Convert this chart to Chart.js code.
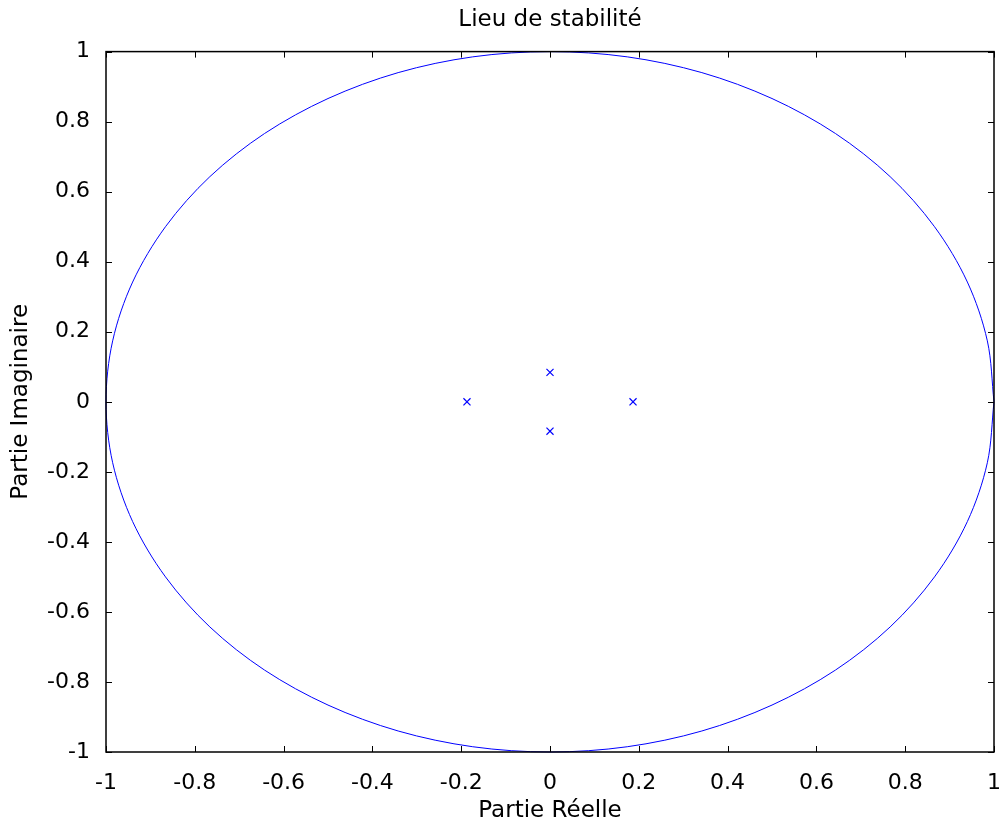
<!DOCTYPE html>
<html lang="fr">
<head>
  <meta charset="UTF-8" />
  <title>Lieu de stabilité</title>
  <script src="https://cdn.jsdelivr.net/npm/chart.js"></script>
  <style>
    body {
      margin: 0;
      background: #ffffff;
    }
    .chart-wrapper {
      position: relative;
      width: 1002px;
      height: 828px;
    }
  </style>
</head>
<body>
  <div class="chart-wrapper">
    <canvas id="stabChart"></canvas>
  </div>

  <script>
    // Cercle unité (points relevés tous les 10°)
    const circleX = [1, 0.985, 0.940, 0.866, 0.766, 0.643, 0.5, 0.342, 0.174, 0,
      -0.174, -0.342, -0.5, -0.643, -0.766, -0.866, -0.940, -0.985, -1,
      -0.985, -0.940, -0.866, -0.766, -0.643, -0.5, -0.342, -0.174, 0,
      0.174, 0.342, 0.5, 0.643, 0.766, 0.866, 0.940, 0.985, 1];
    const circleY = [0, 0.174, 0.342, 0.5, 0.643, 0.766, 0.866, 0.940, 0.985, 1,
      0.985, 0.940, 0.866, 0.766, 0.643, 0.5, 0.342, 0.174, 0,
      -0.174, -0.342, -0.5, -0.643, -0.766, -0.866, -0.940, -0.985, -1,
      -0.985, -0.940, -0.866, -0.766, -0.643, -0.5, -0.342, -0.174, 0];

    // Pôles du système
    const poleX = [-0.187, 0.187, 0, 0];
    const poleY = [0, 0, 0.084, -0.084];

    // Graduations
    const tickValues = [-1, -0.8, -0.6, -0.4, -0.2, 0, 0.2, 0.4, 0.6, 0.8, 1];

    const FONT = "'DejaVu Sans', sans-serif";
    const BLUE = '#0000ff';

    const toPoints = (xs, ys) => xs.map((x, i) => ({ x: x, y: ys[i] }));

    // cadre + graduations intérieures (style MATLAB)
    const boxPlugin = {
      id: 'boxPlugin',
      afterDraw(chart) {
        const { ctx, chartArea: a, scales } = chart;
        const len = 6;
        ctx.save();
        ctx.strokeStyle = '#000';
        ctx.lineWidth = 1;
        ctx.beginPath();
        tickValues.forEach(v => {
          const px = Math.round(scales.x.getPixelForValue(v)) + 0.5;
          const py = Math.round(scales.y.getPixelForValue(v)) + 0.5;
          ctx.moveTo(px, a.bottom); ctx.lineTo(px, a.bottom - len);
          ctx.moveTo(px, a.top); ctx.lineTo(px, a.top + len);
          ctx.moveTo(a.left, py); ctx.lineTo(a.left + len, py);
          ctx.moveTo(a.right, py); ctx.lineTo(a.right - len, py);
        });
        ctx.stroke();
        ctx.lineWidth = 1.5;
        ctx.strokeRect(a.left, a.top, a.right - a.left, a.bottom - a.top);
        ctx.restore();
      }
    };

    const ctx = document.getElementById('stabChart').getContext('2d');

    new Chart(ctx, {
      type: 'scatter',
      data: {
        datasets: [
          {
            label: 'Cercle unité',
            data: toPoints(circleX, circleY),
            showLine: true,
            borderColor: BLUE,
            borderWidth: 1,
            pointRadius: 0,
            tension: 0.33,
            clip: 3
          },
          {
            label: 'Pôles',
            data: toPoints(poleX, poleY),
            showLine: false,
            pointStyle: 'crossRot',
            pointRadius: 5,
            borderColor: BLUE,
            borderWidth: 1.2
          }
        ]
      },
      options: {
        responsive: true,
        maintainAspectRatio: false,
        animation: false,
        layout: { padding: { left: 0, right: 8, top: 0, bottom: 0 } },
        scales: {
          x: {
            type: 'linear',
            min: -1,
            max: 1,
            afterBuildTicks: s => { s.ticks = tickValues.map(v => ({ value: v })); },
            afterFit: s => { s.height = 76; s.paddingLeft = 0; s.paddingRight = 0; },
            grid: { display: false },
            border: { display: false },
            ticks: {
              color: '#000',
              font: { family: FONT, size: 22 },
              padding: 10,
              maxRotation: 0,
              autoSkip: false,
              callback: v => String(v)
            },
            title: {
              display: true,
              text: 'Partie Réelle',
              color: '#000',
              font: { family: FONT, size: 23 },
              padding: { top: 0, bottom: 3 }
            }
          },
          y: {
            type: 'linear',
            min: -1,
            max: 1,
            afterBuildTicks: s => { s.ticks = tickValues.map(v => ({ value: v })); },
            afterFit: s => { s.width = 106; s.paddingTop = 0; s.paddingBottom = 0; },
            grid: { display: false },
            border: { display: false },
            ticks: {
              color: '#000',
              font: { family: FONT, size: 22 },
              padding: 8,
              autoSkip: false,
              callback: v => String(v)
            },
            title: {
              display: true,
              text: 'Partie Imaginaire',
              color: '#000',
              font: { family: FONT, size: 23 },
              padding: { top: 7, bottom: 0 }
            }
          }
        },
        plugins: {
          legend: { display: false },
          tooltip: { enabled: false },
          title: {
            display: true,
            text: 'Lieu de stabilité',
            color: '#000',
            fullSize: false,
            font: { family: FONT, size: 23, weight: 'normal' },
            padding: { top: 6, bottom: 18 }
          }
        }
      },
      plugins: [boxPlugin]
    });
  </script>
</body>
</html>
